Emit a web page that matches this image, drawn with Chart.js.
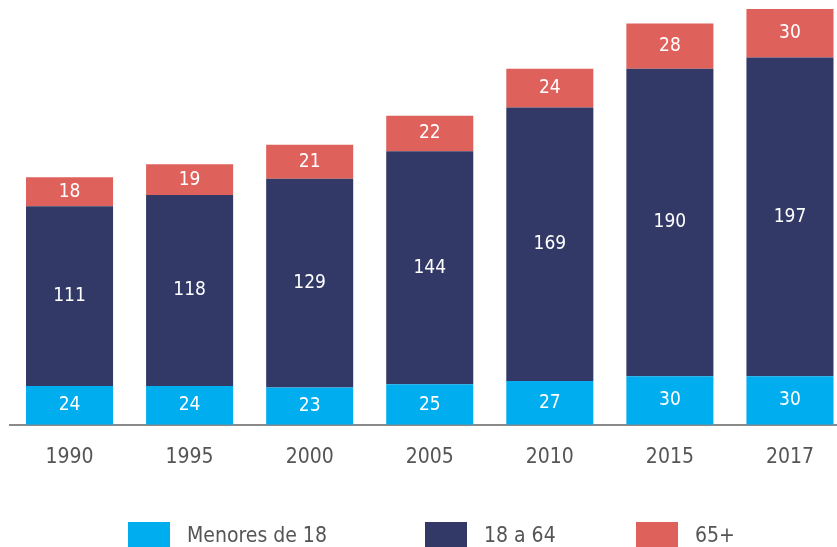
<!DOCTYPE html>
<html>
<head>
<meta charset="utf-8">
<script src="https://cdn.jsdelivr.net/npm/chart.js@4/dist/chart.umd.min.js"></script>
<style>
  html, body { margin: 0; padding: 0; background: #fff; overflow: hidden; }
  #wrap { position: relative; width: 850px; height: 547px; }
  #legend { position: absolute; left: 0; top: 0; width: 837px; height: 547px; pointer-events: none; overflow: hidden; }
  .item { position: absolute; top: 516px; height: 40px; }
  .box { position: absolute; left: 0; top: 0; width: 42px; height: 40px; }
  .txt { position: absolute; top: 1px; white-space: nowrap; font-size: 21px; color: #555;
         font-family: "Liberation Sans Narrow", "DejaVu Sans Condensed", sans-serif; }
</style>
</head>
<body>
<div id="wrap">
  <canvas id="chart" width="850" height="547"></canvas>
  <div id="legend"></div>
</div>
<script>
'use strict';

var years = ['1990', '1995', '2000', '2005', '2010', '2015', '2017'];
var menores = [24, 24, 23, 25, 27, 30, 30];
var adultos = [111, 118, 129, 144, 169, 190, 197];
var mayores = [18, 19, 21, 22, 24, 28, 30];
var seriesNames = ['Menores de 18', '18 a 64', '65+'];
var seriesColors = ['#00aeef', '#333966', '#df615c'];

var FONT = '"Liberation Sans Narrow", "DejaVu Sans Condensed", sans-serif';

// white value in the middle of every segment
var segmentLabels = {
   id: 'segmentLabels',
   afterDatasetsDraw: function (chart) {
      var ctx = chart.ctx;
      ctx.save();
      ctx.fillStyle = '#ffffff';
      ctx.font = '19px ' + FONT;
      ctx.textAlign = 'center';
      ctx.textBaseline = 'middle';
      chart.data.datasets.forEach(function (ds, i) {
         chart.getDatasetMeta(i).data.forEach(function (bar, j) {
            var mid = (bar.y + bar.base) / 2;
            ctx.fillText(ds.data[j], bar.x, mid);
         });
      });
      ctx.restore();
   }
};

var datasets = [menores, adultos, mayores].map(function (vals, i) {
   return {
      label: seriesNames[i],
      data: vals,
      backgroundColor: seriesColors[i],
      borderWidth: 0,
      categoryPercentage: 1,
      barPercentage: 0.725
   };
});

var chart = new Chart(document.getElementById('chart').getContext('2d'), {
   type: 'bar',
   data: { labels: years, datasets: datasets },
   options: {
      responsive: false,
      animation: false,
      events: [],
      layout: { padding: { left: 9.5, right: 0, top: 0, bottom: 57 } },
      plugins: { legend: { display: false }, tooltip: { enabled: false } },
      scales: {
         x: {
            stacked: true,
            grid: { display: false, drawTicks: false },
            border: { display: true, color: '#8a8a8a', width: 2 },
            ticks: { color: '#555', padding: 20, font: { family: FONT, size: 21 } }
         },
         y: {
            stacked: true,
            display: false,
            min: 0,
            max: 262.5
         }
      }
   },
   plugins: [segmentLabels]
});

// legend laid out like the original, partly cut by the bottom edge
var legendX = [128, 425, 636];
var legend = document.getElementById('legend');
seriesNames.forEach(function (name, i) {
   var item = document.createElement('div');
   item.className = 'item';
   item.style.left = legendX[i] + 'px';
   item.style.top = '522px';
   item.innerHTML = '<div class="box" style="background:' + seriesColors[i] + '"></div>' +
      '<div class="txt" style="left:59px">' + name + '</div>';
   legend.appendChild(item);
});
</script>
</body>
</html>
